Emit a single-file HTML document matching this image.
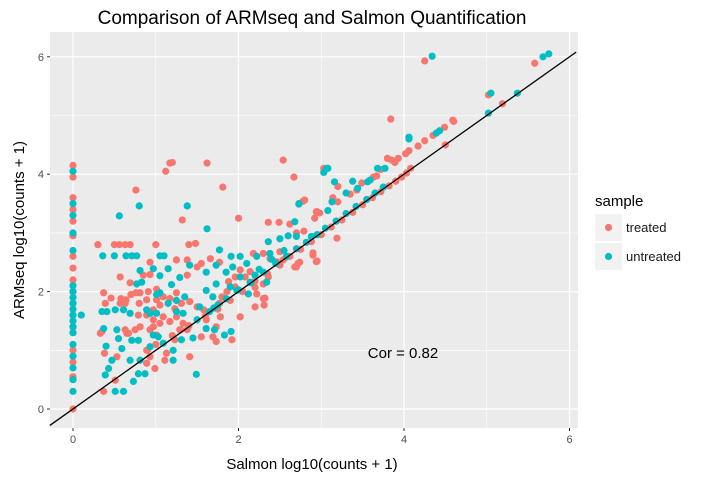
<!DOCTYPE html>
<html><head><meta charset="utf-8"><style>
body{margin:0;background:#fff;font-family:"Liberation Sans",Arial,sans-serif}
svg text{font-family:"Liberation Sans",Arial,sans-serif}
</style></head><body>
<svg id="chart" width="720" height="480" xmlns="http://www.w3.org/2000/svg">
<rect width="720" height="480" fill="#fff"/>
<text x="312" y="24" font-size="19" text-anchor="middle" fill="#000">Comparison of ARMseq and Salmon Quantification</text>
<rect x="50" y="32" width="528" height="396" fill="#ebebeb"/>
<g id="grid"></g>
<g id="pts"></g>
<g id="ref"></g>
<text x="403" y="358" font-size="15" text-anchor="middle" fill="#000">Cor = 0.82</text>
<g id="axes"></g>
<text x="312" y="469" font-size="15" text-anchor="middle" fill="#000">Salmon log10(counts + 1)</text>
<text transform="translate(24,230) rotate(-90)" font-size="15" text-anchor="middle" fill="#000">ARMseq log10(counts + 1)</text>
<g>
<text x="595" y="206" font-size="15" fill="#000">sample</text>
<rect x="595" y="214" width="27" height="27" fill="#f2f2f2"/>
<circle cx="608.5" cy="227.5" r="3.6" fill="#F8766D"/>
<text x="626" y="232" font-size="13" fill="#1a1a1a">treated</text>
<rect x="595" y="243" width="27" height="27" fill="#f2f2f2"/>
<circle cx="608.5" cy="256.5" r="3.6" fill="#00BFC4"/>
<text x="626" y="261" font-size="13" fill="#1a1a1a">untreated</text>
</g>
</svg>
<script>
const xTicks=[0,2,4,6];
const yTicks=[0,2,4,6];
const minorTicks=[1,3,5];
const treatedX=[0,0,0,0,0,0,0,0,0,0,0,0,0,0,0,0,0,0,
1.2,1.17,1.12,1.62,0.76,1.81,1.32,2.0,2.54,2.67,2.8,3.84,
0.3,0.5,0.56,0.63,0.69,1.0,1.4,1.48,
4.25,5.58,5.02,5.19,4.59,4.6,4.49,4.35,4.25,4.17,4.5,4.06,4.02,3.93,3.89,3.85,3.8,3.72,3.63,3.67,3.03,
3.2,3.2,2.78,2.98,2.95,2.92,3.35,3.43,3.49,3.14,
0.37,0.39,0.46,0.57,0.63,0.69,0.76,0.81,0.8,0.91,0.89,1.01,1.01,1.09,1.17,1.25,0.93,0.85,0.93,1.25,1.38,1.38,1.5,1.55,1.66,1.77,0.57,
0.35,0.33,0.38,0.53,0.37,0.51,0.63,0.67,0.75,0.81,0.93,0.97,1.01,1.05,0.89,0.93,0.99,0.89,1.09,1.17,1.25,1.33,1.38,1.11,1.13,1.41,1.55,1.69,1.73,1.92,2.02,1.5,1.58,1.8,1.77,1.88,1.96,2.02,2.2,2.3,2.22,2.2,2.3,2.36,2.18,2.3,2.38,2.36,2.49,2.62,2.7,2.79,2.68,2.72,2.5,2.54,2.9,2.94,2.94,
0.7,0.64,0.58,1.23,1.31,1.41,1.05,0.97,0.79,0.89,0.97,1.23,1.29,0.65,1.78,1.73,1.61,1.86,1.96,2.08,2.14,2.46,2.58,
1.4,1.6,1.75,1.9,2.05,2.2,2.35,2.5,2.62,2.75,2.88,3.0,3.12,3.25,3.38,3.5,3.62,3.72,3.82,3.9,3.97,4.03,4.08,3.19,2.9,2.95,2.7,2.74,2.32,2.31,0.9,1.0,1.2,1.3];
const treatedY=[4.15,3.95,3.6,3.4,3.2,2.95,2.6,2.4,2.2,2.0,1.8,1.6,1.4,1.3,1.0,0.8,0.55,0.0,
4.2,4.19,4.05,4.19,3.73,3.78,3.22,3.25,4.24,3.95,3.56,4.94,
2.8,2.8,2.8,2.8,2.8,2.8,2.8,2.82,
5.93,5.89,5.35,5.2,4.92,4.9,4.8,4.66,4.57,4.48,4.5,4.4,4.35,4.27,4.2,4.24,4.27,4.08,3.95,3.97,4.1,
3.79,3.53,3.54,3.34,3.36,3.25,3.66,3.73,3.85,3.6,
1.98,1.8,1.89,1.8,1.8,2.15,1.98,1.98,1.8,2.0,1.86,2.04,1.86,1.91,1.88,1.98,2.5,2.28,2.29,2.54,2.54,2.28,2.42,2.48,2.56,2.5,2.25,
1.32,1.29,0.95,0.89,0.3,0.49,1.35,1.29,1.35,1.4,1.35,1.4,1.26,1.46,1.0,0.89,0.69,0.78,1.57,1.49,1.57,1.46,1.35,0.83,0.95,0.89,1.23,1.23,1.15,1.18,1.57,1.74,1.69,1.91,1.8,2.17,2.25,2.37,1.74,1.88,1.96,2.07,2.13,2.25,2.65,2.65,2.56,3.18,3.18,3.15,3.0,3.03,2.42,2.48,2.68,2.54,2.62,2.51,3.36,
1.95,1.86,1.88,1.71,1.8,1.83,1.77,1.69,1.6,1.6,1.52,1.18,1.35,1.29,1.57,1.4,1.52,2.0,2.08,2.25,2.34,2.51,2.59,
1.42,1.58,1.7,1.85,2.0,2.18,2.3,2.45,2.6,2.72,2.85,2.97,3.1,3.22,3.35,3.48,3.6,3.7,3.8,3.88,3.95,4.02,4.1,2.91,2.66,2.52,2.42,2.5,1.89,1.77,1.0,1.1,1.25,1.35];
const untreatedX=[0,0,0,0,0,0,0,0,0,0,0,0,0,0,0,0,0,0,0,0.1,
0.8,0.56,1.38,1.62,2.73,
0.36,0.5,0.64,0.71,0.77,1.05,1.1,
4.34,5.68,5.75,5.05,5.02,5.37,4.43,4.39,4.06,4.06,3.77,3.68,3.59,3.56,3.07,3.03,3.08,
3.38,3.16,3.13,2.73,3.08,3.3,3.44,
0.35,0.41,0.51,0.61,0.69,0.37,0.53,0.55,0.4,0.47,0.43,0.39,0.51,0.61,0.73,0.69,0.81,0.87,0.79,0.59,0.71,0.79,0.81,0.97,1.15,1.29,1.05,0.77,0.83,1.01,1.05,1.19,1.25,1.35,0.89,0.93,1.01,1.15,1.25,1.33,0.97,1.03,1.09,0.93,1.21,1.21,1.49,1.31,1.45,1.61,1.71,1.83,1.91,1.53,1.65,1.75,1.61,1.73,1.69,1.41,1.61,1.73,1.77,1.91,2.02,2.1,2.22,1.85,1.93,2.02,2.14,2.2,2.36,2.5,2.6,2.38,2.34,2.7,2.68,2.88,1.9,1.98,2.12,
1.5,1.7,1.85,2.0,2.15,2.3,2.45,2.58,2.7,2.82,2.95,3.05,3.18,3.3,3.42,3.55,3.65,3.75,2.25,2.4,2.55];
const untreatedY=[4.05,3.5,3.3,3.0,2.7,2.1,2.0,1.9,1.8,1.7,1.6,1.5,1.4,1.3,1.1,0.9,0.7,0.5,0.3,1.6,
3.46,3.29,3.46,3.07,3.49,
2.61,2.61,2.61,2.61,2.61,2.61,2.61,
6.01,6.0,6.05,5.38,5.04,5.38,4.74,4.7,4.63,4.6,4.1,4.1,3.9,3.87,4.1,4.03,4.1,
3.88,3.87,3.53,3.5,3.38,3.68,3.76,
1.66,1.66,1.69,1.69,1.63,1.37,1.35,1.2,1.07,0.83,0.69,0.58,0.3,0.3,0.47,0.83,0.83,0.6,0.6,1.03,1.17,1.17,2.36,2.39,2.39,2.24,2.27,2.13,2.16,1.95,1.98,2.12,1.85,1.91,1.69,1.63,1.63,1.8,1.66,1.63,1.26,1.23,1.12,1.06,1.0,0.83,0.59,1.18,1.21,1.37,1.35,1.26,1.32,1.74,1.66,1.77,2.02,2.13,1.91,2.45,2.33,2.45,2.71,2.6,2.6,2.48,2.6,2.33,2.42,2.25,2.16,2.28,2.85,2.9,2.95,2.65,2.16,2.94,3.19,2.94,2.08,2.02,1.96,
1.52,1.72,1.88,2.03,2.15,2.33,2.48,2.6,2.73,2.84,2.97,3.08,3.2,3.33,3.45,3.57,3.68,3.78,2.38,2.55,2.7];

const NS="http://www.w3.org/2000/svg";
function sx(v){return 73+v*82.75;}
function sy(v){return 409-v*58.7;}
function mk(tag,attrs,parent){const e=document.createElementNS(NS,tag);for(const k in attrs)e.setAttribute(k,attrs[k]);parent.appendChild(e);return e;}
const grid=document.getElementById('grid');
minorTicks.forEach(t=>{
  let l=mk('line',{x1:sx(t),x2:sx(t),y1:32,y2:428,stroke:'#fff','stroke-width':0.6},grid);
  
  
  let m=mk('line',{x1:50,x2:578,y1:sy(t),y2:sy(t),stroke:'#fff','stroke-width':0.6},grid);
  
  
});
xTicks.forEach(t=>{
  let l=mk('line',{x1:sx(t),x2:sx(t),y1:32,y2:428,stroke:'#fff','stroke-width':1.2},grid);
  
  
});
yTicks.forEach(t=>{
  let l=mk('line',{x1:50,x2:578,y1:sy(t),y2:sy(t),stroke:'#fff','stroke-width':1.2},grid);
  
  
});
const axes=document.getElementById('axes');
xTicks.forEach(t=>{
  let l=mk('line',{x1:sx(t),x2:sx(t),y1:428,y2:431,stroke:'#333','stroke-width':1},axes);
  
  
  let tx=mk('text',{x:sx(t),y:443,'font-size':11,'text-anchor':'middle',fill:'#4d4d4d'},axes);
  tx.textContent=String(t);
  
  
});
yTicks.forEach(t=>{
  let l=mk('line',{x1:47,x2:50,y1:sy(t),y2:sy(t),stroke:'#333','stroke-width':1},axes);
  
  
  let tx=mk('text',{x:44,y:sy(t)+4,'font-size':11,'text-anchor':'end',fill:'#4d4d4d'},axes);
  tx.textContent=String(t);
  
  
});
const pts=document.getElementById('pts');
treatedX.forEach((x,i)=>{
  const c=mk('circle',{cx:sx(x),cy:sy(treatedY[i]),r:3.6,fill:'#F8766D'},pts);
  
  
});
untreatedX.forEach((x,i)=>{
  const c=mk('circle',{cx:sx(x),cy:sy(untreatedY[i]),r:3.6,fill:'#00BFC4'},pts);
  
  
});
const ref=document.getElementById('ref');
const x0=-0.28,x1=6.08;
const rl=mk('line',{x1:sx(x0),y1:sy(x0),x2:sx(x1),y2:sy(x1),stroke:'#000','stroke-width':1.3},ref);


</script>
</body></html>
